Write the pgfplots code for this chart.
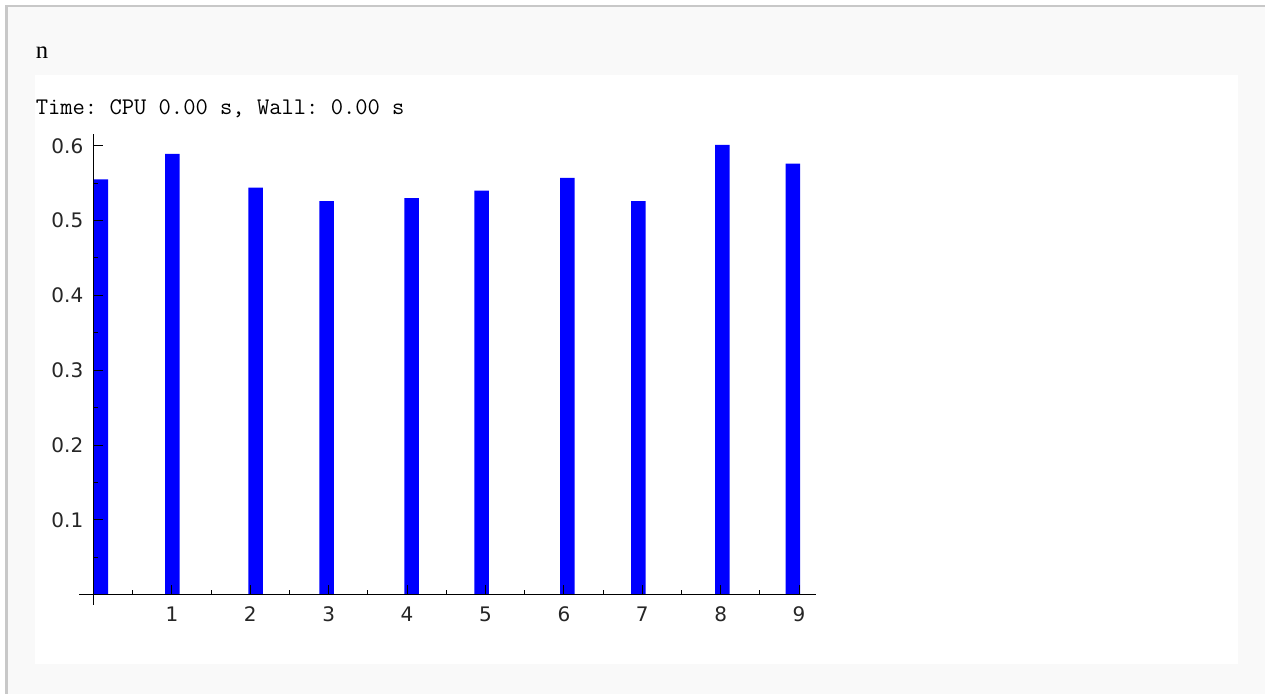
\documentclass[border=0pt]{standalone}
\usepackage{pgfplots}
\pgfplotsset{compat=1.18}
\usepackage{fontspec}
\newfontfamily\dejavu{DejaVu Sans}
\newfontfamily\libserif{Liberation Serif}
\definecolor{bordergray}{HTML}{C8C8C8}
\definecolor{cellbg}{HTML}{F9F9F9}
\definecolor{barblue}{HTML}{0000FF}
\begin{document}
\frenchspacing
\begin{tikzpicture}[x=0.75pt,y=0.75pt]
\fill[white] (0,0) rectangle (1265,694);
\fill[bordergray] (5,0) rectangle (1265,689);
\fill[cellbg] (8,0) rectangle (1265,686.5);
\fill[white] (35,30) rectangle (1238,619);
\node[anchor=base west, inner sep=0pt, font=\libserif\fontsize{18.5}{22}\selectfont] at (35.5,635) {n};
\node[anchor=base west, inner sep=0pt, font=\ttfamily\fontsize{17.9}{20}\selectfont\frenchspacing] at (35.5,579) {Time: CPU 0.00 s, Wall: 0.00 s};
\begin{axis}[
 at={(70.125pt,74.475pt)}, anchor=origin,
 x=58.8pt, y=561.2pt,
 xmin=-0.181, xmax=9.21, ymin=-0.0135, ymax=0.6157,
 axis lines=middle, axis line style={-, line width=0.8pt, black},
 axis on top,
 xtick={1,...,9}, ytick={0.1,0.2,0.3,0.4,0.5,0.6},
 minor xtick={0.5,1.5,2.5,3.5,4.5,5.5,6.5,7.5,8.5},
 minor ytick={0.05,0.15,0.25,0.35,0.45,0.55},
 tick align=inside,
 major tick length=7pt, minor tick length=3.5pt,
 tick style={black, line width=0.75pt},
 /pgf/number format/assume math mode=true,
 ticklabel style={font=\dejavu\fontsize{15}{18}\selectfont, text=black!85},
 xticklabel style={anchor=north, inner sep=0pt, yshift=-9pt},
 yticklabel style={anchor=east, inner sep=0pt, xshift=-7.5pt},
]
\addplot[ybar, bar width=0.185, fill=barblue, draw=none] coordinates {
(0.093,0.555) (1.005,0.589) (2.067,0.544) (2.973,0.526) (4.057,0.530)
(4.950,0.540) (6.043,0.557) (6.949,0.526) (8.020,0.601) (8.922,0.576)
};
\end{axis}
\end{tikzpicture}
\end{document}
